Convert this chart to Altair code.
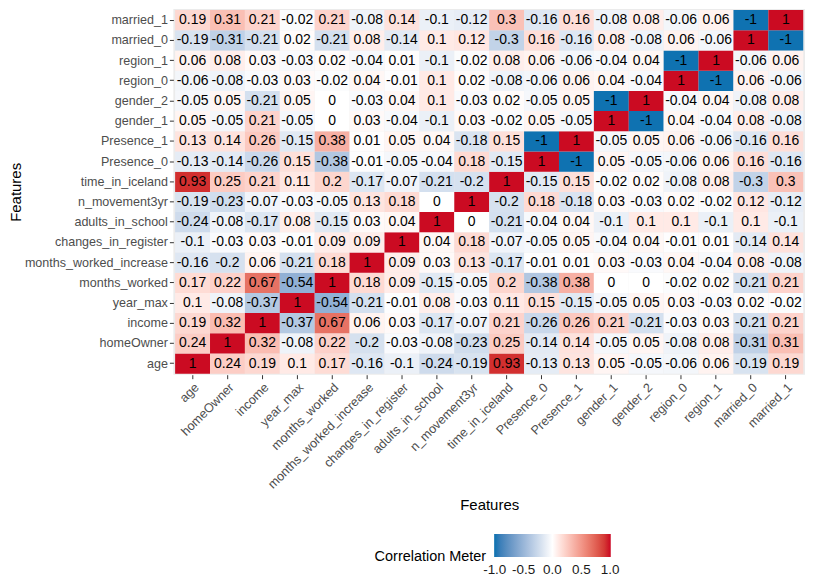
import altair as alt
import pandas as pd

features = ["age", "homeOwner", "income", "year_max", "months_worked",
            "months_worked_increase", "changes_in_register", "adults_in_school",
            "n_movement3yr", "time_in_iceland", "Presence_0", "Presence_1",
            "gender_1", "gender_2", "region_0", "region_1", "married_0", "married_1"]

# one list per row feature, values in the order of `features` (columns)
r_age = [1, 0.24, 0.19, 0.1, 0.17, -0.16, -0.1, -0.24, -0.19, 0.93, -0.13, 0.13, 0.05, -0.05, -0.06, 0.06, -0.19, 0.19]
r_homeOwner = [0.24, 1, 0.32, -0.08, 0.22, -0.2, -0.03, -0.08, -0.23, 0.25, -0.14, 0.14, -0.05, 0.05, -0.08, 0.08, -0.31, 0.31]
r_income = [0.19, 0.32, 1, -0.37, 0.67, 0.06, 0.03, -0.17, -0.07, 0.21, -0.26, 0.26, 0.21, -0.21, -0.03, 0.03, -0.21, 0.21]
r_year_max = [0.1, -0.08, -0.37, 1, -0.54, -0.21, -0.01, 0.08, -0.03, 0.11, 0.15, -0.15, -0.05, 0.05, 0.03, -0.03, 0.02, -0.02]
r_months_worked = [0.17, 0.22, 0.67, -0.54, 1, 0.18, 0.09, -0.15, -0.05, 0.2, -0.38, 0.38, 0, 0, -0.02, 0.02, -0.21, 0.21]
r_months_worked_increase = [-0.16, -0.2, 0.06, -0.21, 0.18, 1, 0.09, 0.03, 0.13, -0.17, -0.01, 0.01, 0.03, -0.03, 0.04, -0.04, 0.08, -0.08]
r_changes_in_register = [-0.1, -0.03, 0.03, -0.01, 0.09, 0.09, 1, 0.04, 0.18, -0.07, -0.05, 0.05, -0.04, 0.04, -0.01, 0.01, -0.14, 0.14]
r_adults_in_school = [-0.24, -0.08, -0.17, 0.08, -0.15, 0.03, 0.04, 1, 0, -0.21, -0.04, 0.04, -0.1, 0.1, 0.1, -0.1, 0.1, -0.1]
r_n_movement3yr = [-0.19, -0.23, -0.07, -0.03, -0.05, 0.13, 0.18, 0, 1, -0.2, 0.18, -0.18, 0.03, -0.03, 0.02, -0.02, 0.12, -0.12]
r_time_in_iceland = [0.93, 0.25, 0.21, 0.11, 0.2, -0.17, -0.07, -0.21, -0.2, 1, -0.15, 0.15, -0.02, 0.02, -0.08, 0.08, -0.3, 0.3]
r_Presence_0 = [-0.13, -0.14, -0.26, 0.15, -0.38, -0.01, -0.05, -0.04, 0.18, -0.15, 1, -1, 0.05, -0.05, -0.06, 0.06, 0.16, -0.16]
r_Presence_1 = [0.13, 0.14, 0.26, -0.15, 0.38, 0.01, 0.05, 0.04, -0.18, 0.15, -1, 1, -0.05, 0.05, 0.06, -0.06, -0.16, 0.16]
r_gender_1 = [0.05, -0.05, 0.21, -0.05, 0, 0.03, -0.04, -0.1, 0.03, -0.02, 0.05, -0.05, 1, -1, 0.04, -0.04, 0.08, -0.08]
r_gender_2 = [-0.05, 0.05, -0.21, 0.05, 0, -0.03, 0.04, 0.1, -0.03, 0.02, -0.05, 0.05, -1, 1, -0.04, 0.04, -0.08, 0.08]
r_region_0 = [-0.06, -0.08, -0.03, 0.03, -0.02, 0.04, -0.01, 0.1, 0.02, -0.08, -0.06, 0.06, 0.04, -0.04, 1, -1, 0.06, -0.06]
r_region_1 = [0.06, 0.08, 0.03, -0.03, 0.02, -0.04, 0.01, -0.1, -0.02, 0.08, 0.06, -0.06, -0.04, 0.04, -1, 1, -0.06, 0.06]
r_married_0 = [-0.19, -0.31, -0.21, 0.02, -0.21, 0.08, -0.14, 0.1, 0.12, -0.3, 0.16, -0.16, 0.08, -0.08, 0.06, -0.06, 1, -1]
r_married_1 = [0.19, 0.31, 0.21, -0.02, 0.21, -0.08, 0.14, -0.1, -0.12, 0.3, -0.16, 0.16, -0.08, 0.08, -0.06, 0.06, -1, 1]

rows = [r_age, r_homeOwner, r_income, r_year_max, r_months_worked,
        r_months_worked_increase, r_changes_in_register, r_adults_in_school,
        r_n_movement3yr, r_time_in_iceland, r_Presence_0, r_Presence_1,
        r_gender_1, r_gender_2, r_region_0, r_region_1, r_married_0, r_married_1]

legend_values = [-1, -0.5, 0, 0.5, 1]

records = []
for rname, vals in zip(features, rows):
    for cname, v in zip(features, vals):
        records.append({"row": rname, "col": cname, "value": v, "label": f"{v:g}"})
df = pd.DataFrame(records)

FONT = "Liberation Sans"

x_enc = alt.X("col:N", sort=features,
              scale=alt.Scale(paddingInner=0, paddingOuter=0.05),
              axis=alt.Axis(title="Features", labelAngle=-45, labelAlign="right",
                            labelBaseline="top", labelFontSize=12.6, labelColor="#4D4D4D",
                            labelFont=FONT, tickColor="#333333", tickSize=4,
                            labelPadding=2, domain=False, grid=False,
                            titleFont=FONT, titleFontSize=15, titleFontWeight="normal",
                            titleColor="black", titlePadding=7))
y_enc = alt.Y("row:N", sort=features[::-1],
              scale=alt.Scale(paddingInner=0, paddingOuter=0.05),
              axis=alt.Axis(title="Features", labelFontSize=12.6, labelColor="#4D4D4D",
                            labelFont=FONT, tickColor="#333333", tickSize=4,
                            labelPadding=2, domain=False, grid=False,
                            titleFont=FONT, titleFontSize=15, titleFontWeight="normal",
                            titleColor="black", titlePadding=1))

base = alt.Chart(df).encode(x=x_enc, y=y_enc)

rect = base.mark_rect().encode(
    color=alt.Color("value:Q",
                    scale=alt.Scale(domain=[-1.01, 0, 1.01],
                                    range=["#0571b0", "#ffffff", "#ca0020"],
                                    interpolate="lab"),
                    legend=alt.Legend(title="Correlation Meter", orient="none",
                                      direction="horizontal", titleOrient="left",
                                      legendX=202, legendY=527,
                                      gradientLength=117, gradientThickness=23,
                                      values=legend_values, format=".1f",
                                      labelExpr="replace(datum.label, '\u2212', '-')",
                                      labelOverlap=False, labelOffset=6,
                                      labelFont=FONT, labelFontSize=13.5, labelColor="#1A1A1A",
                                      titleFont=FONT, titleFontSize=14.5,
                                      titleFontWeight="normal", titleColor="black",
                                      titlePadding=7, titleAnchor="end",
                                      titleBaseline="middle"))
)

text = base.mark_text(font=FONT, fontSize=14, color="black").encode(text="label:N")

chart = alt.layer(rect, text).properties(
    width=634, height=367,
    padding={"left": 0, "top": 0, "right": 0, "bottom": 0},
).configure_view(fill="#EBEBEB", strokeWidth=0)

chart.save("out.html", embed_options={"renderer": "svg", "actions": False})
